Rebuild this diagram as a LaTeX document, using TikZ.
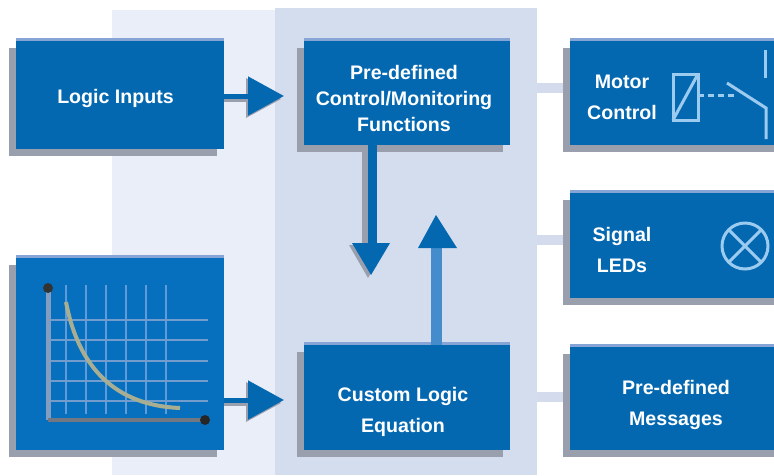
\documentclass[tikz,border=0pt]{standalone}
\usepackage{fontspec}
\setmainfont{Liberation Sans}
\usetikzlibrary{arrows.meta,shadows}
\definecolor{boxblue}{HTML}{0468B1}
\definecolor{chartblue}{HTML}{0670BE}
\definecolor{shade}{HTML}{9A9FAE}
\definecolor{panelA}{HTML}{E9EEF8}
\definecolor{panelB}{HTML}{D3DDEE}
\definecolor{stub}{HTML}{D3DBEC}
\definecolor{sym}{HTML}{9CCBF0}
\definecolor{gridc}{HTML}{5F9BD8}
\definecolor{band}{HTML}{86A4D6}
\definecolor{curvec}{HTML}{A8AE92}
\tikzset{
  bluebox/.style={draw=none,fill=boxblue,inner sep=0pt,
    general shadow={shadow xshift=-7pt,shadow yshift=-7pt,fill=shade}},
  txt/.style={text=white,font=\fontsize{19.6}{31}\selectfont\bfseries,align=center,inner sep=0pt},
  txttight/.style={text=white,font=\fontsize{19.6}{26}\selectfont\bfseries,align=center,inner sep=0pt},
  flow/.style={draw=boxblue,line width=5pt,-{Triangle[length=36pt,width=38pt,fill=boxblue]}},
  flowshade/.style={draw=shade,line width=5pt},
  headshade/.style={fill=shade},
  topband/.style={fill=band},
  stubline/.style={draw=stub,line width=10pt},
  symline/.style={draw=sym,line width=3pt},
  gridl/.style={draw=gridc,line width=2.6pt}
}
\begin{document}
\begin{tikzpicture}[x=1pt,y=-1pt]
\useasboundingbox (0,0) rectangle (774,475);
\fill[white] (0,0) rectangle (774,475);
\fill[panelA] (112,10) rectangle (275,475);
\fill[panelB] (275,8) rectangle (537,475);
% nodes
\node[bluebox,minimum width=208pt,minimum height=108pt] (logic) at (120,95) {};
\node[bluebox,minimum width=206pt,minimum height=104pt] (predef) at (407,93) {};
\node[bluebox,minimum width=206pt,minimum height=105pt] (custom) at (407,397.5) {};
\node[bluebox,fill=chartblue,minimum width=208pt,minimum height=192pt] (chart) at (120,354) {};
\coordinate (mc) at (570,88);
\coordinate (sc) at (570,240);
\coordinate (pc) at (570,397);
\draw[stubline] (537,88) -- (mc);
\draw[stubline] (537,240) -- (sc);
\draw[stubline] (537,397) -- (pc);
\node[bluebox,minimum width=214pt,minimum height=104pt] (motor) at (677,93) {};
\node[bluebox,minimum width=214pt,minimum height=105pt] (signal) at (677,245.5) {};
\node[bluebox,minimum width=214pt,minimum height=103pt] (msg) at (677,398.5) {};
\foreach \n in {logic,predef,custom,chart,motor,signal,msg}
  \fill[topband] (\n.north west) rectangle ([yshift=3pt]\n.north east);
\node[txt] (logictxt) at (115.5,98) {Logic Inputs};
\node[txttight] (predeftxt) at (404,98) {Pre-defined\\Control/Monitoring\\Functions};
\node[txt] (customtxt) at (403,411.5) {Custom Logic\\Equation};
\node[txt] (motortxt) at (622,97.5) {Motor\\Control};
\node[txt] (signaltxt) at (622,249.5) {Signal\\LEDs};
\node[txt] (msgtxt) at (676,404.5) {Pre-defined\\Messages};
% arrows
\draw[flowshade] (logic.east |- 0,99) -- (250,99);
\fill[headshade] (246,78) -- (281,99) -- (246,118) -- cycle;
\draw[flow] (logic.east |- 0,96) -- (284,96);
\draw[draw=shade,line width=9pt] (predef.south -| 366,0) -- (366,245);
\draw[draw=boxblue,line width=9pt] (predef.south -| 372.5,0) -- (372.5,250);
\fill[headshade] (349,245) -- (387,245) -- (368,278) -- cycle;
\fill[boxblue] (352,243) -- (390,243) -- (371,275) -- cycle;
\draw[draw=gridc!70!boxblue,line width=11pt] (custom.north -| 436,0) -- (436,244);
\fill[boxblue] (436,215) -- (457,248) -- (418,248) -- cycle;
\draw[flowshade] (chart.east |- 0,403) -- (250,403);
\fill[headshade] (246,382) -- (281,403) -- (246,422) -- cycle;
\draw[flow] (chart.east |- 0,400) -- (284,400);
% chart
\foreach \gx in {66,86,106,126,146,166} \draw[gridl] (\gx,285) -- (\gx,414);
\foreach \gy in {320,340,361,381,401} \draw[gridl,draw=gridc!70!shade] (48,\gy) -- (208,\gy);
\draw[draw=gridc!40!shade,line width=5pt] (48,290) -- (48,420);
\draw[draw=shade!75!black,line width=4pt] (48,420) -- (205,420);
\fill[black!80] (48,288) circle (5);
\fill[black!85] (205,420) circle (5);
\draw[draw=curvec,line width=4pt] (66,302) .. controls (76,355) and (105,405) .. (180,408);
% motor symbol
\draw[symline] (673,74) rectangle (698,120);
\draw[symline] (673,120) -- (698,74);
\draw[symline,dash pattern=on 6pt off 4pt] (698,95) -- (735,95);
\draw[symline] (727,83) -- (766,108) -- (766,139);
\draw[symline] (765,50) -- (765,78);
% lamp
\draw[symline] (745,246) circle (23);
\draw[symline] (729,230) -- (761,262);
\draw[symline] (729,262) -- (761,230);
\end{tikzpicture}
\end{document}
